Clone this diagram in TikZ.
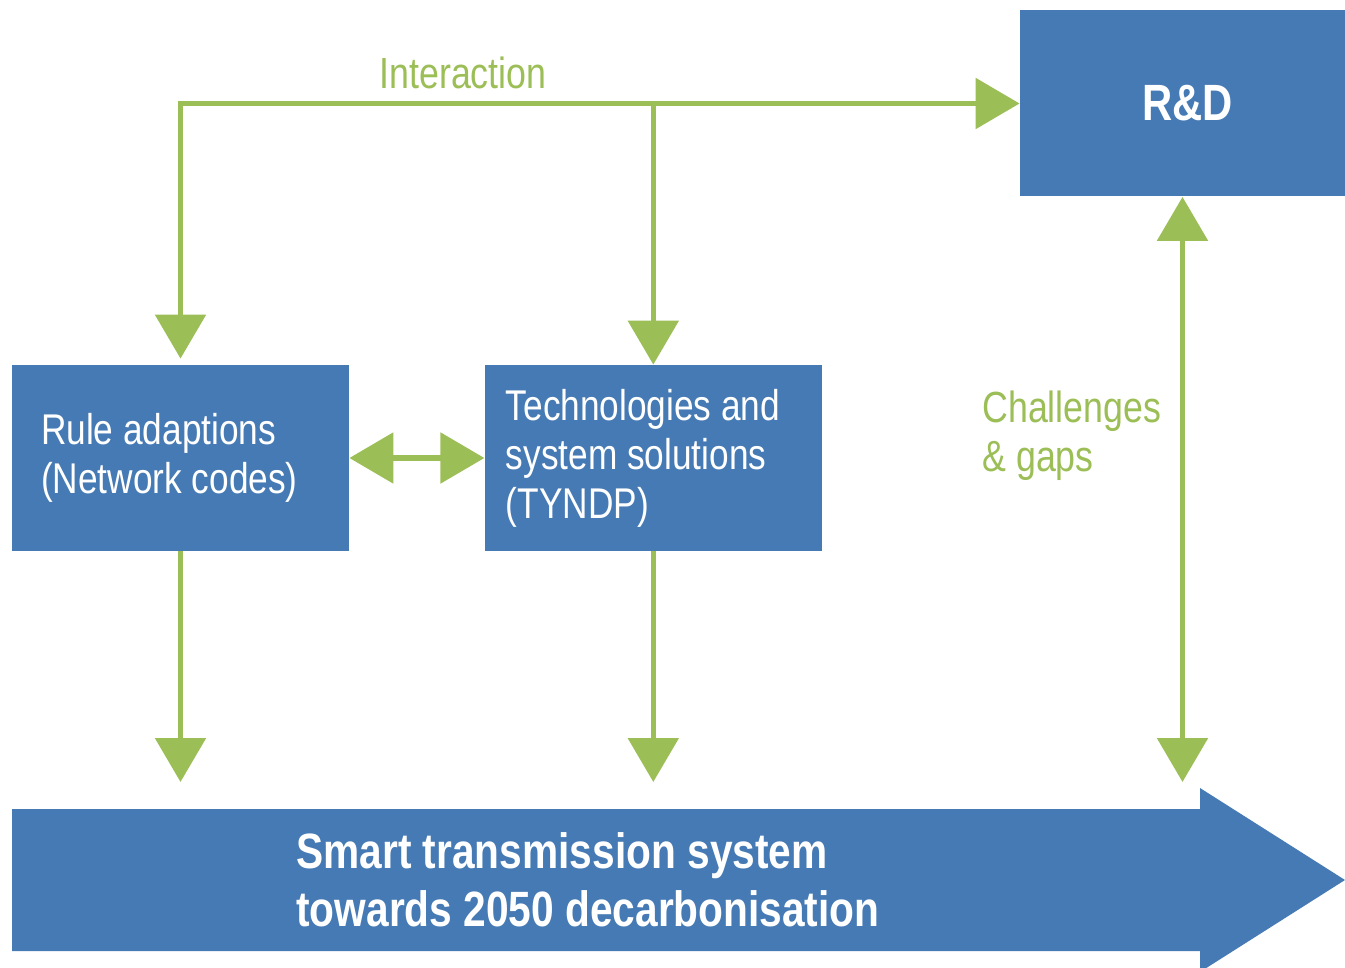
\documentclass[tikz,border=0pt]{standalone}
\usepackage{fontspec}
\setmainfont[FakeStretch=0.82]{Liberation Sans}
\usepackage{tikz}
\usetikzlibrary{arrows.meta,calc,positioning}

\definecolor{boxblue}{RGB}{70,122,180}
\definecolor{leafgreen}{RGB}{156,190,86}

\tikzset{
  box/.style={fill=boxblue, text=white, align=flush left, minimum width=168.5pt, minimum height=93pt,
    font=\fontsize{21.5}{24.5}\selectfont},
  flow/.style={draw=leafgreen, line width=2.8pt},
  greentext/.style={text=leafgreen, font=\fontsize{21.8}{24.5}\selectfont, inner sep=0pt}
}

\begin{document}
\begin{tikzpicture}[x=0.5pt, y=-0.5pt, >={Triangle[width=25pt,length=22pt]}]
\useasboundingbox (0,0) rectangle (1345,968);

%nodes
\node [box, inner xsep=14.5pt, text width=139.5pt] (rules) at (180.5,458) {Rule adaptions\\(Network codes)};
\node [box, inner xsep=10.5pt, text width=147.5pt, right=67.5pt of rules] (techs) {Technologies and\\system solutions\\(TYNDP)};
\node [box, align=center, minimum width=162.5pt, font=\fontsize{25.5}{28}\selectfont\bfseries] (rd) at (1182.5,103.5) {\hspace*{5pt}R\&D};

%big arrow
\fill [boxblue] (12,809) -- (1200,809) -- (1200,788) -- (1345,880) -- (1200,972) -- (1200,951) -- (12,951) -- cycle;
\node [anchor=west, text=white, align=flush left, inner sep=0pt, font=\fontsize{24.8}{29}\selectfont\bfseries] (smart) at (296,880)
  {Smart transmission system\\towards 2050 decarbonisation};
\coordinate (goal) at (0,782);

%labels
\node [greentext, anchor=base] (inter) at (463,89) {Interaction};
\node [greentext, anchor=north west, align=flush left] (gaps) at (982,391) {Challenges\\\& gaps};

%arrows
\draw [flow, <->] (rd.west) -| ($(rules.north)+(0,-6)$);
\draw [flow, ->] (techs.north |- rd.west) -- (techs.north);
\draw [flow, <->] (rules.east) -- (techs.west);
\draw [flow, ->] (rules.south) -- (rules.south |- goal);
\draw [flow, ->] (techs.south) -- (techs.south |- goal);
\draw [flow, <->] (rd.south) -- (rd.south |- goal);

\end{tikzpicture}
\end{document}
